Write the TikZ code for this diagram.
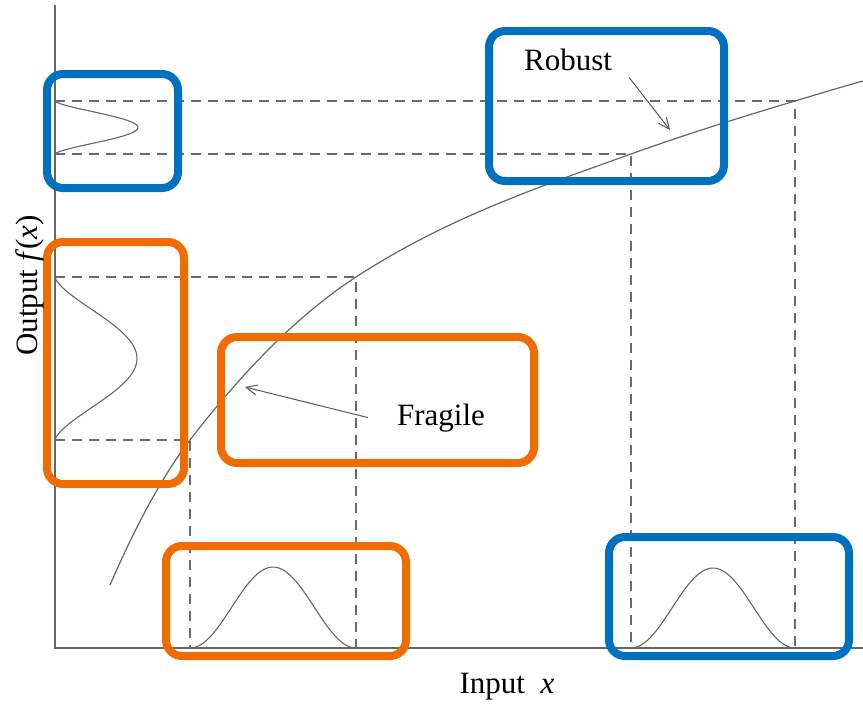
\documentclass[tikz,border=0pt]{standalone}
\usepackage{fontspec}
\setmainfont{Liberation Serif}
\usetikzlibrary{arrows.meta}
\definecolor{boxblue}{RGB}{0,112,192}
\definecolor{boxorange}{RGB}{240,108,0}

\begin{document}
\begin{tikzpicture}[x=1pt,y=-1pt,
		axis/.style={draw=black!60,line width=1.2pt},
		guide/.style={draw=black!58,line width=1.7pt,dash pattern=on 10pt off 7pt},
		bell/.style={draw=black!60,line width=1.1pt},
		frame/.style={line width=8pt,rounded corners=16pt},
		pointer/.style={draw=black!65,line width=1pt,-{Straight Barb[length=11pt,width=10pt]}},
		lab/.style={font=\fontsize{31}{37}\selectfont,inner sep=1pt}]
	\useasboundingbox (0,0) rectangle (863,704);

	\coordinate (o) at (55,648);
	\coordinate (top) at (55,5);
	\coordinate (end) at (863,648);
	\coordinate (c0) at (110,585);
	\coordinate (a1) at (190,440);
	\coordinate (a2) at (356,277);
	\coordinate (b1) at (631,154);
	\coordinate (b2) at (795,101);
	\coordinate (c5) at (863,81);
	\coordinate (rt) at (670,130);
	\coordinate (ft) at (245,387);

	\draw[guide] (a1 -| o) -- (a1) -- (a1 |- o);
	\draw[guide] (a2 -| o) -- (a2) -- (a2 |- o);
	\draw[guide] (b1 -| o) -- (b1) -- (b1 |- o);
	\draw[guide] (b2 -| o) -- (b2) -- (b2 |- o);

	\draw[axis] (top) -- (o) -- (end);
	\draw[axis] (c0) .. controls (136.7,523.7) and (163.3,474.7) .. (a1)
		.. controls (245.3,368.1) and (300.7,313.0) .. (a2)
		.. controls (447.7,217.4) and (539.3,187.0) .. (b1)
		.. controls (685.7,134.3) and (740.3,117.4) .. (b2)
		.. controls (817.7,94.2) and (840.3,87.3) .. (c5);

	\draw[bell] plot[domain=0:1,samples=60] ({190+166*\x},{648-81*(1-cos(360*\x))/2});
	\draw[bell] plot[domain=0:1,samples=60] ({631+164*\x},{648-80*(1-cos(360*\x))/2});
	\draw[bell] plot[domain=0.001:0.999,samples=60] ({55+82*abs(sin(180*\x))^1.5},{277+163*\x});
	\draw[bell] plot[domain=0.001:0.999,samples=60] ({55+83*abs(sin(180*\x))^1.5},{101+53*\x});

	\draw[frame,boxblue] (47,74) rectangle (178,188);
	\draw[frame,boxblue] (489,31) rectangle (724,181);
	\draw[frame,boxblue] (609,537) rectangle (849,656);
	\draw[frame,boxorange] (47,242) rectangle (184,484);
	\draw[frame,boxorange] (221,337) rectangle (534,463);
	\draw[frame,boxorange] (166,546) rectangle (406,656);

	\node[lab,anchor=base] (rob) at (568,70) {Robust};
	\node[lab,anchor=base] (frag) at (441,425) {Fragile};
	\node[lab,anchor=base] (xlab) at (507,693) {Input\enspace\textit{x}};
	\node[lab,anchor=base west,rotate=90] (ylab) at (37,357) {Output \textit{f}(\textit{x})};

	\draw[pointer] ([shift={(16,6)}]rob.south east) -- (rt);
	\draw[pointer] ([xshift=-28pt]frag.west) -- (ft);

\end{tikzpicture}
\end{document}
